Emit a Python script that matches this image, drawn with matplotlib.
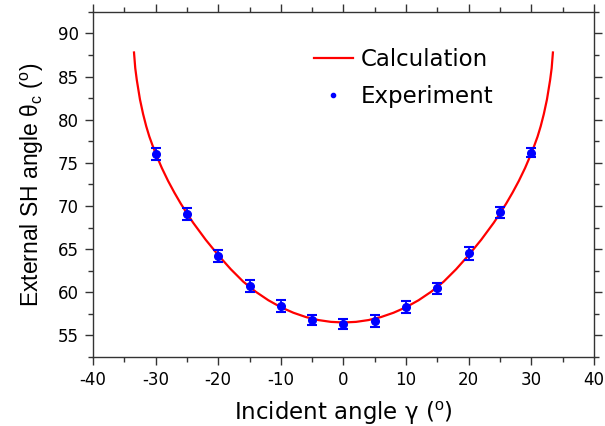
import numpy as np
import matplotlib
matplotlib.use('Agg')
import matplotlib.pyplot as plt
from matplotlib.ticker import MultipleLocator

plt.rcParams['font.family'] = ['DejaVu Sans']
plt.rcParams['mathtext.fontset'] = 'custom'
plt.rcParams['mathtext.rm'] = 'Liberation Sans'
plt.rcParams['mathtext.it'] = 'Liberation Sans:italic'
plt.rcParams['axes.unicode_minus'] = False

# calculated curve
calc_x = [-33.45, -33.25, -33, -32.5, -32, -31.5, -31, -30.5, -30, -29, -28, -27, -26, -25,
          -24, -22, -20, -18, -16, -14, -12, -10, -8, -6, -4, -2,
          0, 2, 4, 6, 8, 10, 12, 14, 16, 18, 20, 22, 24,
          25, 26, 27, 28, 29, 30, 30.5, 31, 31.5, 32, 32.5, 33, 33.25, 33.45]
calc_y = [87.8, 85.98, 84.59, 82.36, 80.67, 79.25, 78.05, 77.05, 76.1, 74.4, 72.9, 71.55, 70.3, 69.15,
          68.06, 66.09, 64.31, 62.68, 61.23, 60.06, 59.08, 58.27, 57.63, 57.13, 56.78, 56.57,
          56.5, 56.57, 56.78, 57.13, 57.63, 58.27, 59.08, 60.06, 61.23, 62.68, 64.31, 66.09, 68.06,
          69.15, 70.3, 71.55, 72.9, 74.4, 76.1, 77.05, 78.05, 79.25, 80.67, 82.36, 84.59, 85.98, 87.8]

# measured points
exp_x = [-30, -25, -20, -15, -10, -5, 0, 5, 10, 15, 20, 25, 30]
exp_y = [76.0, 69.1, 64.25, 60.7, 58.4, 56.8, 56.35, 56.65, 58.3, 60.45, 64.5, 69.25, 76.2]
exp_err = [0.7, 0.7, 0.7, 0.7, 0.7, 0.6, 0.6, 0.7, 0.7, 0.6, 0.7, 0.6, 0.5]

fig = plt.figure(figsize=(6.05, 4.26), dpi=100)
ax = fig.add_axes([0.1537, 0.162, 0.828, 0.81])

ax.plot(calc_x, calc_y, color='red', lw=1.6, label='Calculation', zorder=2)
ax.errorbar(exp_x, exp_y, yerr=exp_err, fmt='none', ecolor='blue', elinewidth=1.3,
            capsize=3.8, capthick=1.5, zorder=3)
ax.plot(exp_x, exp_y, 'o', color='blue', ms=5.5, ls='none', label='Experiment', zorder=4)

ax.set_xlim(-40, 40)
ax.set_ylim(52.5, 92.5)
ax.xaxis.set_major_locator(MultipleLocator(10))
ax.xaxis.set_minor_locator(MultipleLocator(5))
ax.yaxis.set_major_locator(MultipleLocator(5))
ax.yaxis.set_minor_locator(MultipleLocator(2.5))
ax.tick_params(which='both', direction='out', top=True, right=True,
               labeltop=False, labelright=False, color='#333333')
ax.tick_params(which='major', length=6, width=1, labelsize=12, pad=4)
ax.tick_params(which='minor', length=3.5, width=1)
for s in ax.spines.values():
    s.set_color('#333333')
    s.set_linewidth(1)

ax.set_xlabel(r'Incident angle γ ($^\mathrm{o}$)', fontsize=16.5, labelpad=8)
ax.set_ylabel(r'External SH angle θ$_\mathrm{c}$ ($^\mathrm{o}$)', fontsize=16.5, labelpad=9,
              family=['Liberation Sans', 'DejaVu Sans'])

ax.legend(loc='upper left', bbox_to_anchor=(0.40, 0.955), frameon=False, fontsize=16.5,
          handlelength=1.7, handletextpad=0.35, labelspacing=0.62, markerscale=0.55)

fig.savefig('out.png', dpi=100)
